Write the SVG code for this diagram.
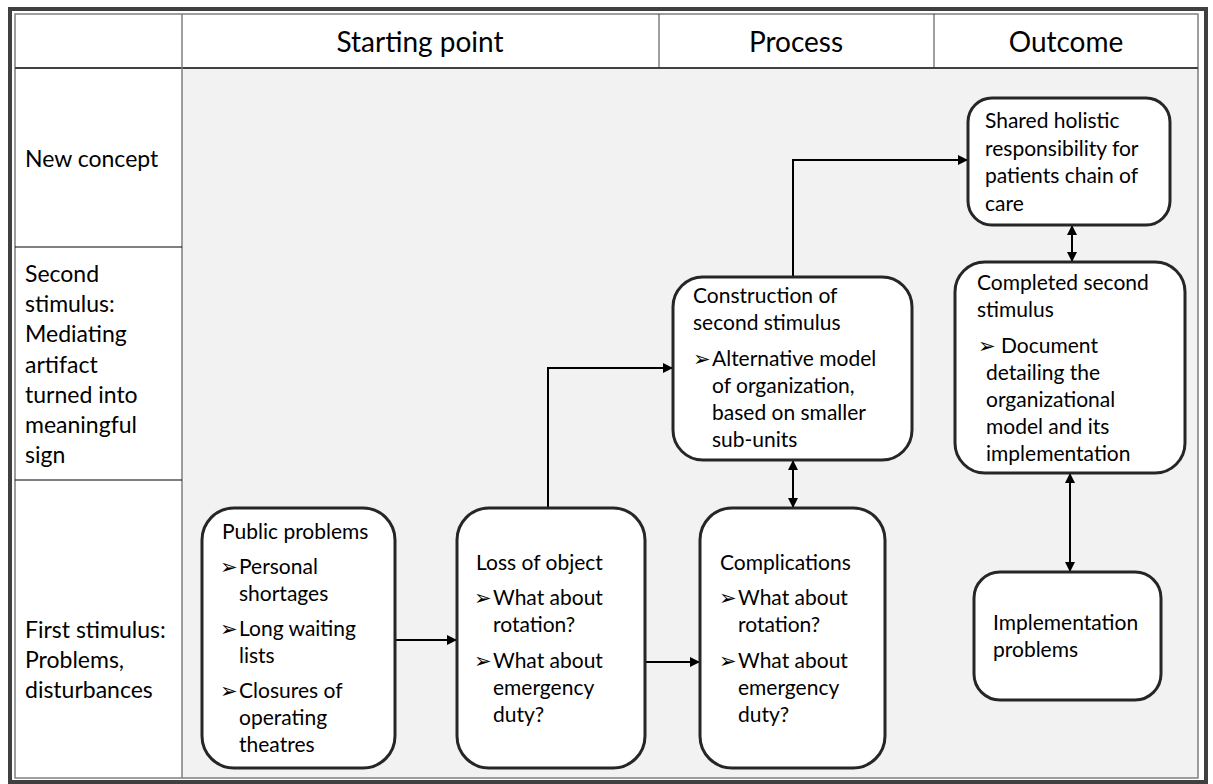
<svg xmlns="http://www.w3.org/2000/svg" width="1213" height="784" viewBox="0 0 1213 784">
<defs>
<marker id="ah" viewBox="0 0 10 10" refX="10" refY="5" markerWidth="10" markerHeight="10" markerUnits="userSpaceOnUse" orient="auto-start-reverse">
<path d="M0,0 L10,5 L0,10 z" fill="#000"/>
</marker>
<style>
.t{font-family:Lato,"Liberation Sans",sans-serif;fill:#000}
.h{font-size:28px;text-anchor:middle}
.l{font-size:23px}
.n{font-size:21px}
.b{font-family:"DejaVu Sans",sans-serif;font-size:21px}
.box{fill:#fff;stroke:#262626;stroke-width:3}
.c{fill:none;stroke:#000;stroke-width:2}
</style>
</defs>
<rect x="0" y="0" width="1213" height="784" fill="#fff"/>
<g id="table">
<rect x="182" y="68" width="1016" height="710" fill="#f2f2f2"/>
<rect x="10" y="9" width="1196" height="773" fill="none" stroke="#404040" stroke-width="4"/>
<rect x="15" y="14" width="1183" height="764" fill="none" stroke="#7f7f7f" stroke-width="1.5"/>
<line x1="15" y1="68" x2="1198" y2="68" stroke="#404040" stroke-width="2"/>
<line x1="182" y1="14" x2="182" y2="778" stroke="#7f7f7f" stroke-width="1.5"/>
<line x1="659" y1="14" x2="659" y2="68" stroke="#404040" stroke-width="1"/>
<line x1="934" y1="14" x2="934" y2="68" stroke="#404040" stroke-width="1"/>
<line x1="15" y1="247" x2="182" y2="247" stroke="#000" stroke-width="1"/>
<line x1="15" y1="480" x2="182" y2="480" stroke="#000" stroke-width="1"/>
<text class="t h" x="420" y="52">Starting point</text>
<text class="t h" x="796" y="52">Process</text>
<text class="t h" x="1066" y="52">Outcome</text>
<text class="t l" x="25" y="167">New concept</text>
<text class="t l" x="25" y="282">Second<tspan x="25" dy="30.2">stimulus:</tspan><tspan x="25" dy="30.2">Mediating</tspan><tspan x="25" dy="30.2">artifact</tspan><tspan x="25" dy="30.2">turned into</tspan><tspan x="25" dy="30.2">meaningful</tspan><tspan x="25" dy="30.2">sign</tspan></text>
<text class="t l" x="25" y="638">First stimulus:<tspan x="25" dy="30">Problems,</tspan><tspan x="25" dy="30">disturbances</tspan></text>
</g>
<g id="connectors">
<line class="c" x1="395" y1="640" x2="457" y2="640" marker-end="url(#ah)"/>
<line class="c" x1="645" y1="662" x2="700" y2="662" marker-end="url(#ah)"/>
<polyline class="c" points="548,508 548,368 673,368" marker-end="url(#ah)"/>
<polyline class="c" points="793,277 793,160 968,160" marker-end="url(#ah)"/>
<line class="c" x1="793" y1="460" x2="793" y2="508" marker-start="url(#ah)" marker-end="url(#ah)"/>
<line class="c" x1="1072" y1="225" x2="1072" y2="262" marker-start="url(#ah)" marker-end="url(#ah)"/>
<line class="c" x1="1070" y1="473" x2="1070" y2="572" marker-start="url(#ah)" marker-end="url(#ah)"/>
</g>
<g id="public-problems">
<rect class="box" x="202" y="508" width="193" height="260" rx="32"/>
<text class="t n" x="222" y="539">Public problems</text>
<text class="t n" x="220" y="574"><tspan class="b">➢</tspan><tspan x="239">Personal</tspan><tspan x="239" dy="27">shortages</tspan></text>
<text class="t n" x="220" y="636"><tspan class="b">➢</tspan><tspan x="239">Long waiting</tspan><tspan x="239" dy="27">lists</tspan></text>
<text class="t n" x="220" y="698"><tspan class="b">➢</tspan><tspan x="239">Closures of</tspan><tspan x="239" dy="27">operating</tspan><tspan x="239" dy="27">theatres</tspan></text>
</g>
<g id="loss-of-object">
<rect class="box" x="457" y="508" width="188" height="260" rx="32"/>
<text class="t n" x="476" y="570">Loss of object</text>
<text class="t n" x="474" y="605"><tspan class="b">➢</tspan><tspan x="493">What about</tspan><tspan x="493" dy="27">rotation?</tspan></text>
<text class="t n" x="474" y="668"><tspan class="b">➢</tspan><tspan x="493">What about</tspan><tspan x="493" dy="27">emergency</tspan><tspan x="493" dy="27">duty?</tspan></text>
</g>
<g id="complications">
<rect class="box" x="700" y="508" width="185" height="260" rx="32"/>
<text class="t n" x="720" y="570">Complications</text>
<text class="t n" x="719" y="605"><tspan class="b">➢</tspan><tspan x="738">What about</tspan><tspan x="738" dy="27">rotation?</tspan></text>
<text class="t n" x="719" y="668"><tspan class="b">➢</tspan><tspan x="738">What about</tspan><tspan x="738" dy="27">emergency</tspan><tspan x="738" dy="27">duty?</tspan></text>
</g>
<g id="construction">
<rect class="box" x="673" y="277" width="239" height="183" rx="30"/>
<text class="t n" x="693" y="303">Construction of<tspan x="693" dy="27">second stimulus</tspan></text>
<text class="t n" x="693" y="366"><tspan class="b">➢</tspan><tspan x="712">Alternative model</tspan><tspan x="712" dy="27">of organization,</tspan><tspan x="712" dy="27">based on smaller</tspan><tspan x="712" dy="27">sub-units</tspan></text>
</g>
<g id="shared-holistic">
<rect class="box" x="968" y="98" width="202" height="127" rx="24"/>
<text class="t n" x="985" y="128">Shared holistic<tspan x="985" dy="27.7">responsibility for</tspan><tspan x="985" dy="27.7">patients chain of</tspan><tspan x="985" dy="27.7">care</tspan></text>
</g>
<g id="completed-second">
<rect class="box" x="955" y="262" width="230" height="211" rx="30"/>
<text class="t n" x="977" y="290">Completed second<tspan x="977" dy="27">stimulus</tspan></text>
<text class="t n" x="978" y="353"><tspan class="b">➢</tspan><tspan x="1001">Document</tspan><tspan x="986" dy="27">detailing the</tspan><tspan x="986" dy="27">organizational</tspan><tspan x="986" dy="27">model and its</tspan><tspan x="986" dy="27">implementation</tspan></text>
</g>
<g id="implementation-problems">
<rect class="box" x="974" y="572" width="187" height="128" rx="26"/>
<text class="t n" x="993" y="630">Implementation<tspan x="993" dy="27">problems</tspan></text>
</g>
</svg>
